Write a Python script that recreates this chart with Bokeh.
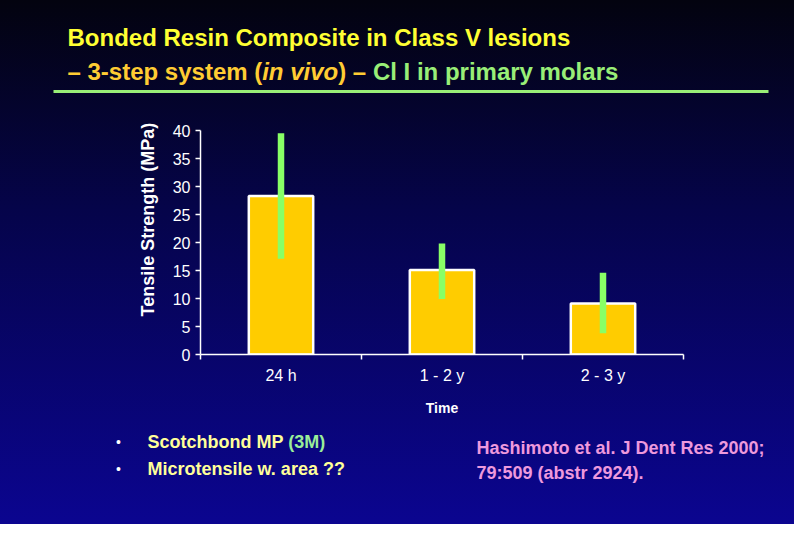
from bokeh.plotting import figure
from bokeh.layouts import column, row
from bokeh.models import FixedTicker, Label, BoxAnnotation, ColumnDataSource, Range1d, Title
from bokeh.embed import file_html
from bokeh.resources import INLINE

# ---- data ----
categories = ["24 h", "1 - 2 y", "2 - 3 y"]
means = [28.3, 15.1, 9.1]
err_upper = [39.5, 19.8, 14.6]
err_lower = [17.1, 9.9, 3.8]
y_ticks = [0, 5, 10, 15, 20, 25, 30, 35, 40]

x_title = "Time"
y_title = "Tensile Strength (MPa)"
title1 = "Bonded Resin Composite in Class V lesions"
title2_parts = ["\u2013 3-step system (", "in vivo", ") \u2013 ", "Cl I in primary molars"]
bullet1_parts = ["Scotchbond MP ", "(3M)"]
bullet2 = "Microtensile w. area ??"
ref_lines = ["Hashimoto et al. J Dent Res 2000;", "79:509 (abstr 2924)."]

FONT = "Liberation Sans"
W = 794
TOP_H, MID_H, BOT_H = 115, 315, 94


def blank_fig(w, h):
    f = figure(width=w, height=h, output_backend="svg", toolbar_location=None,
               x_range=Range1d(0, w), y_range=Range1d(h, 0),
               x_axis_type=None, y_axis_type=None, min_border=0)
    f.background_fill_color = None
    f.border_fill_color = None
    f.outline_line_color = None
    f.grid.visible = False
    return f


def lab(f, x, y, text, color, size, style="bold", align="left"):
    f.add_layout(Label(x=x, y=y, text=text,
                       text_color=color, text_font=FONT, text_font_size=size,
                       text_font_style=style, text_baseline="middle", text_align=align))


# ---- title block ----
top = blank_fig(W, TOP_H)
lab(top, 67, 37, title1, "#ffff33", "24px")
t2x = [67, 67 + 194.7, 67 + 194.7 + 76.0, 67 + 194.7 + 76.0 + 34.7]
t2c = ["#ffcc33", "#ffcc33", "#ffcc33", "#99ee77"]
t2s = ["bold", "bold italic", "bold", "bold"]
for x, txt, c, s in zip(t2x, title2_parts, t2c, t2s):
    lab(top, x, 71, txt, c, "24px", s)
top.add_layout(BoxAnnotation(left=53, right=768, top=89.5, bottom=92.5,
                             fill_color="#99ee77", fill_alpha=1, line_color=None))

# ---- chart ----
xs = [i + 0.5 for i in range(len(categories))]
src = ColumnDataSource(dict(x=xs, top=means, lo=err_lower, hi=err_upper))

p = figure(width=W, height=MID_H, output_backend="svg", toolbar_location=None,
           x_range=Range1d(0, len(categories)), y_range=Range1d(0, 40),
           min_border_left=200, min_border_right=W - 200 - 483,
           min_border_top=130 - TOP_H, min_border_bottom=MID_H - (130 - TOP_H) - 224)
p.background_fill_color = None
p.border_fill_color = None
p.outline_line_color = None
p.grid.visible = False

p.vbar(x="x", top="top", width=0.4, bottom=0, source=src,
       fill_color="#ffcc00", line_color="white", line_width=2.5)
p.segment(x0="x", y0="lo", x1="x", y1="hi", source=src,
          line_color="#88ff66", line_width=6.5, line_cap="butt")

ya = p.yaxis[0]
ya.ticker = FixedTicker(ticks=y_ticks, minor_ticks=[])
ya.axis_line_color = "white"
ya.axis_line_width = 1.5
ya.major_tick_line_color = "white"
ya.major_tick_line_width = 1.5
ya.major_tick_out = 5
ya.major_tick_in = 0
ya.minor_tick_line_color = None
ya.major_label_text_color = "white"
ya.major_label_text_font = FONT
ya.major_label_text_font_size = "16px"
ya.major_label_standoff = 5

# y-axis title, shifted upward like the reference
p.add_layout(Title(text=y_title, align="left", offset=38, standoff=24,
                   text_color="white", text_font=FONT, text_font_size="18px",
                   text_font_style="bold"), "left")

xa = p.xaxis[0]
xa.ticker = FixedTicker(ticks=xs, minor_ticks=list(range(len(categories) + 1)))
xa.major_label_overrides = {x: c for x, c in zip(xs, categories)}
xa.axis_line_color = "white"
xa.axis_line_width = 1.5
xa.major_tick_line_color = None
xa.major_tick_out = 0
xa.major_tick_in = 0
xa.minor_tick_line_color = "white"
xa.minor_tick_line_width = 1.5
xa.minor_tick_out = 5
xa.minor_tick_in = 0
xa.major_label_text_color = "white"
xa.major_label_text_font = FONT
xa.major_label_text_font_size = "16px"
xa.major_label_standoff = 7
xa.axis_label = x_title
xa.axis_label_text_color = "white"
xa.axis_label_text_font = FONT
xa.axis_label_text_font_style = "bold"
xa.axis_label_text_font_size = "14px"
xa.axis_label_standoff = 13

# ---- notes ----
BOT0 = TOP_H + MID_H
bot = blank_fig(W, BOT_H)
lab(bot, 118, 441 - BOT0, "\u2022", "white", "14px", "normal", align="center")
lab(bot, 118, 468 - BOT0, "\u2022", "white", "14px", "normal", align="center")
lab(bot, 147, 441 - BOT0, bullet1_parts[0], "#ffff99", "18px")
lab(bot, 147 + 140.8, 441 - BOT0, bullet1_parts[1], "#99ee99", "18px")
lab(bot, 147, 468 - BOT0, bullet2, "#ffff99", "18px")
lab(bot, 476, 447 - BOT0, ref_lines[0], "#ee99dd", "18px")
lab(bot, 476, 472 - BOT0, ref_lines[1], "#ee99dd", "18px")

layout = column(top, row(p, spacing=0), bot, spacing=0,
                styles={"background": "linear-gradient(to bottom, #03030f 0%, #05044a 40%, #0b0590 100%)"})

open("out.html", "w").write(file_html(layout, INLINE))
